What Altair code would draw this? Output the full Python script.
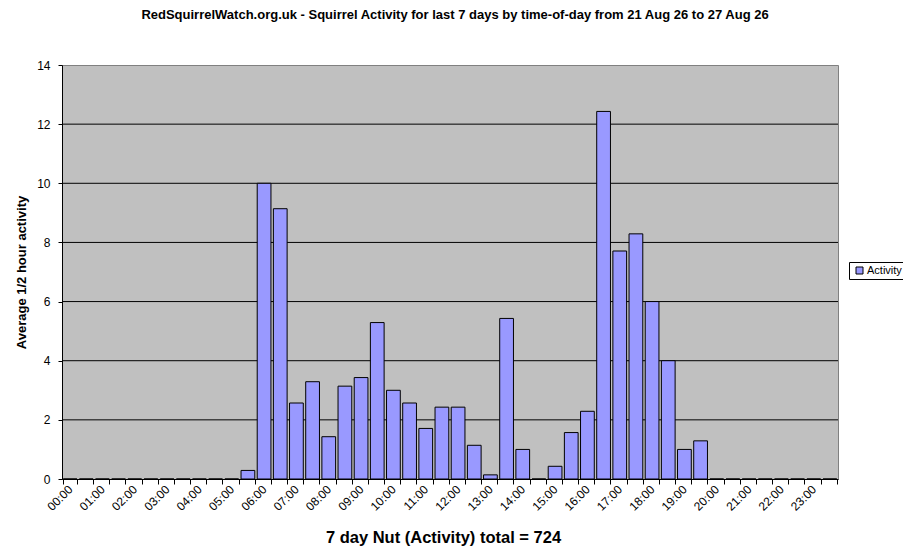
import altair as alt
import pandas as pd

slots = ["00:00", "00:30", "01:00", "01:30", "02:00", "02:30", "03:00", "03:30",
         "04:00", "04:30", "05:00", "05:30", "06:00", "06:30", "07:00", "07:30",
         "08:00", "08:30", "09:00", "09:30", "10:00", "10:30", "11:00", "11:30",
         "12:00", "12:30", "13:00", "13:30", "14:00", "14:30", "15:00", "15:30",
         "16:00", "16:30", "17:00", "17:30", "18:00", "18:30", "19:00", "19:30",
         "20:00", "20:30", "21:00", "21:30", "22:00", "22:30", "23:00", "23:30"]

activity = [0, 0, 0, 0, 0, 0, 0, 0,
            0, 0, 0, 0.29, 10.0, 9.14, 2.57, 3.29,
            1.43, 3.14, 3.43, 5.29, 3.0, 2.57, 1.71, 2.43,
            2.43, 1.14, 0.14, 5.43, 1.0, 0, 0.43, 1.57,
            2.29, 12.43, 7.71, 8.29, 6.0, 4.0, 1.0, 1.29,
            0, 0, 0, 0, 0, 0, 0, 0]

y_ticks = [0, 2, 4, 6, 8, 10, 12, 14]
grid_lines = [2, 4, 6, 8, 10, 12]

df = pd.DataFrame({"slot": slots, "activity": activity, "series": "Activity"})
grid_df = pd.DataFrame({"activity": grid_lines})

FONT = "Arial, Liberation Sans, sans-serif"
NARROW = "Liberation Sans Narrow, Arial Narrow, Arial, sans-serif"

W, H = 776, 414

y_scale = alt.Scale(domain=[0, 14], nice=False)
y_axis = alt.Axis(
    values=y_ticks, title="Average 1/2 hour activity", grid=False,
    labelFont=FONT, labelFontSize=12, labelColor="black", labelPadding=8,
    tickColor="black", tickSize=4, domainColor="black",
    titleFont=FONT, titleFontSize=13, titleFontWeight="bold", titleColor="black",
    titleX=-41, titleY=H / 2, titleAngle=270, titleBaseline="middle",
    titleAlign="center", titleAnchor="middle",
)

grid = alt.Chart(grid_df).mark_rule(color="black", strokeWidth=1).encode(
    y=alt.Y("activity:Q", scale=y_scale, axis=y_axis)
)

bars = alt.Chart(df).mark_bar(stroke="black", strokeWidth=1).encode(
    x=alt.X(
        "slot:N", sort=slots,
        scale=alt.Scale(paddingInner=0.15, paddingOuter=0.075),
        axis=alt.Axis(
            title="7 day Nut (Activity) total = 724",
            tickBand="extent", labelAngle=-45, labelAlign="right", labelBaseline="middle",
            labelExpr="substring(datum.value, 3, 5) == '00' ? datum.value : ''",
            labelOverlap=False, labelFontSize=12, labelFont=FONT, labelColor="black",
            labelPadding=3, tickColor="black", tickSize=5, domainColor="black",
            grid=False, titleFont=FONT, titleFontSize=16.5, titleFontWeight="bold",
            titleColor="black", titleX=381, titleY=63, titleBaseline="alphabetic",
            titleAnchor="middle", titleAlign="center",
        ),
    ),
    y=alt.Y("activity:Q", scale=y_scale, axis=y_axis),
    color=alt.Color(
        "series:N",
        scale=alt.Scale(range=["#9999FF"]),
        legend=alt.Legend(
            title=None, orient="none", legendX=787, legendY=197,
            strokeColor="black", fillColor="white", padding=3,
            symbolType="square", symbolSize=49, symbolStrokeColor="black",
            symbolStrokeWidth=1, symbolOffset=2, labelOffset=2,
            labelFont=FONT, labelFontSize=11, labelColor="black",
        ),
    ),
)

chart = alt.layer(grid, bars).properties(
    width=W, height=H,
    autosize=alt.AutoSizeParams(type="none"),
    padding={"left": 54, "top": 57, "right": 65, "bottom": 70},
    title=alt.TitleParams(
        "RedSquirrelWatch.org.uk - Squirrel Activity for last 7 days by time-of-day from 21 Aug 26 to 27 Aug 26",
        font=NARROW, fontSize=13, fontWeight="bold", color="black",
        anchor="middle", frame="group", dx=5, offset=37,
    ),
).configure_view(fill="#C0C0C0", stroke="#808080", strokeWidth=1)

chart.save("out.html", embed_options={"renderer": "svg", "actions": False})
